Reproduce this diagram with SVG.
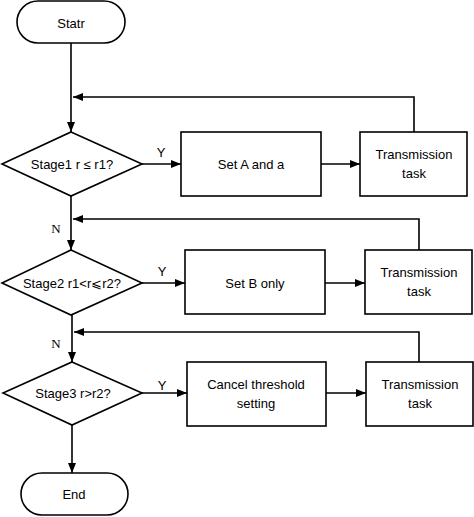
<svg xmlns="http://www.w3.org/2000/svg" width="474" height="517" viewBox="0 0 474 517">
<defs>
<marker id="ah" markerWidth="10" markerHeight="8" refX="10" refY="4" orient="auto" markerUnits="userSpaceOnUse">
<path d="M0,0 L10,4 L0,8 Z" fill="#000"/>
</marker>
<style>
.s{fill:#fff;stroke:#000;stroke-width:1.6}
.c{fill:none;stroke:#000;stroke-width:1.6;marker-end:url(#ah)}
.t{font-family:"Liberation Sans",Arial,sans-serif;font-size:13px;fill:#000;text-anchor:middle}
.n{font-family:"Liberation Serif","Times New Roman",serif;font-size:13px;fill:#000;text-anchor:middle}
</style>
</defs>
<rect width="474" height="517" fill="#fff"/>
<g id="connectors">
<path class="c" d="M71,43 V132"/>
<path class="c" d="M414,132 V97 H73"/>
<path class="c" d="M142,164 H181"/>
<path class="c" d="M321,164 H360"/>
<path class="c" d="M71,196 V250"/>
<path class="c" d="M419,250 V219 H73"/>
<path class="c" d="M142,283 H185"/>
<path class="c" d="M325,283 H365"/>
<path class="c" d="M72,315 V362"/>
<path class="c" d="M419,362 V332 H74"/>
<path class="c" d="M142,393 H187"/>
<path class="c" d="M326,393 H366"/>
<path class="c" d="M72,425 V473"/>
<text class="t" x="161" y="157">Y</text>
<text class="t" x="162" y="276">Y</text>
<text class="t" x="162" y="390">Y</text>
<text class="n" x="56" y="233">N</text>
<text class="n" x="56" y="348">N</text>
</g>
<g id="start">
<rect class="s" x="17" y="1" width="108" height="42" rx="21"/>
<text class="t" x="71" y="28">Statr</text>
</g>
<g id="stage1">
<path class="s" d="M71,132 L142,164 L71,196 L2,164 Z"/>
<text class="t" x="72" y="169">Stage1 r ≤ r1?</text>
</g>
<g id="setA">
<rect class="s" x="181" y="132" width="140" height="64"/>
<text class="t" x="251" y="169">Set A and a</text>
</g>
<g id="trans1">
<rect class="s" x="360" y="132" width="107" height="64"/>
<text class="t" x="414" y="159">Transmission</text>
<text class="t" x="414" y="178">task</text>
</g>
<g id="stage2">
<path class="s" d="M71,250 L142,283 L71,315 L2,283 Z"/>
<text class="t" x="72" y="288">Stage2 r1&lt;r⩽r2?</text>
</g>
<g id="setB">
<rect class="s" x="185" y="250" width="140" height="64"/>
<text class="t" x="255" y="288">Set B only</text>
</g>
<g id="trans2">
<rect class="s" x="365" y="250" width="107" height="64"/>
<text class="t" x="419" y="277">Transmission</text>
<text class="t" x="419" y="296">task</text>
</g>
<g id="stage3">
<path class="s" d="M72,362 L142,393 L72,425 L3,393 Z"/>
<text class="t" x="73" y="398">Stage3 r&gt;r2?</text>
</g>
<g id="cancel">
<rect class="s" x="187" y="362" width="139" height="64"/>
<text class="t" x="256" y="389">Cancel threshold</text>
<text class="t" x="256" y="408">setting</text>
</g>
<g id="trans3">
<rect class="s" x="366" y="362" width="107" height="64"/>
<text class="t" x="420" y="389">Transmission</text>
<text class="t" x="420" y="408">task</text>
</g>
<g id="end">
<rect class="s" x="21" y="473" width="107" height="42" rx="21"/>
<text class="t" x="74" y="499">End</text>
</g>
</svg>
